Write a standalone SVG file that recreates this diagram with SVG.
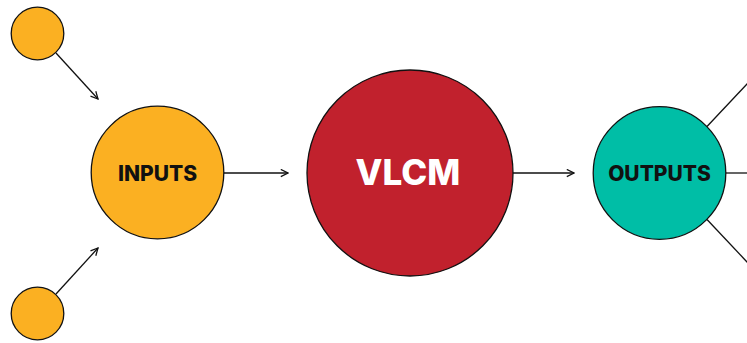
<svg xmlns="http://www.w3.org/2000/svg" width="747" height="343" viewBox="0 0 747 343">
<style>
.node{stroke:#111;stroke-width:1.3}
.o{fill:#FBB022}
.r{fill:#C1212D}
.t{fill:#00BEA6}
.lbl{font-family:Inter,"Open Sans","DejaVu Sans",sans-serif;font-weight:800;text-anchor:middle}
.c{stroke:#111;stroke-width:1.3;fill:none}
</style>
<defs>
<marker id="ah" viewBox="0 0 10 10" refX="9" refY="5" markerWidth="9" markerHeight="9" markerUnits="userSpaceOnUse" orient="auto">
<path d="M1,1 L9,5 L1,9" fill="none" stroke="#111" stroke-width="1.4"/>
</marker>
</defs>
<rect width="747" height="343" fill="#fff"/>
<g id="connectors">
<line class="c" x1="56" y1="53" x2="98" y2="99" marker-end="url(#ah)"/>
<line class="c" x1="56" y1="294" x2="98" y2="248" marker-end="url(#ah)"/>
<line class="c" x1="224" y1="173" x2="288" y2="173" marker-end="url(#ah)"/>
<line class="c" x1="513" y1="173" x2="574" y2="173" marker-end="url(#ah)"/>
<line class="c" x1="707" y1="126.5" x2="748" y2="83"/>
<line class="c" x1="726" y1="173" x2="748" y2="173"/>
<line class="c" x1="707" y1="219.5" x2="748" y2="263"/>
</g>
<g id="input-top"><circle class="node o" cx="37.5" cy="33.5" r="26.3"/></g>
<g id="input-bottom"><circle class="node o" cx="37.5" cy="313.5" r="26.3"/></g>
<g id="inputs">
<circle class="node o" cx="157.5" cy="172.5" r="66.3"/>
<text class="lbl" x="157.5" y="181" font-size="21" fill="#111">INPUTS</text>
</g>
<g id="vlcm">
<circle class="node r" cx="410" cy="173" r="103"/>
<text class="lbl" x="408" y="185" font-size="35" fill="#fff">VLCM</text>
</g>
<g id="outputs">
<circle class="node t" cx="659.5" cy="173" r="66.3"/>
<text class="lbl" x="659.5" y="180.5" font-size="21" fill="#111">OUTPUTS</text>
</g>
</svg>
